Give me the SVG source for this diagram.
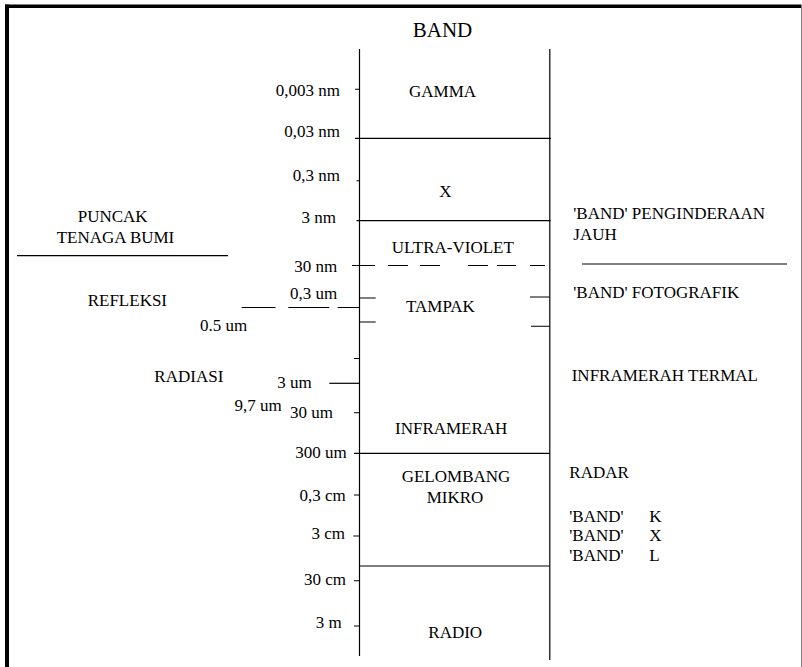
<svg xmlns="http://www.w3.org/2000/svg" width="802" height="667" viewBox="0 0 802 667">
<style>
text{font-family:"Liberation Serif","Times New Roman",serif;font-size:17px;fill:#000}
.e{text-anchor:end}
.ln{stroke:#000;stroke-width:1.2;fill:none}
.tk{stroke:#000;stroke-width:1.1;fill:none}
</style>
<rect width="802" height="667" fill="#fff"/>
<g id="frame">
<rect x="5" y="4.5" width="796" height="3.5" fill="#000"/>
<rect x="5" y="4.5" width="4" height="663" fill="#000"/>
<line x1="801.5" y1="4.5" x2="801.5" y2="667" stroke="#808080" stroke-width="1"/>
</g>
<g id="title"><text x="442.5" y="37" style="font-size:21px;text-anchor:middle">BAND</text></g>
<g id="connectors">
<line class="ln" x1="359.5" y1="49" x2="359.5" y2="656"/>
<line class="ln" x1="549.8" y1="49" x2="549.8" y2="660"/>
<line class="ln" x1="355" y1="138.3" x2="551" y2="138.3"/>
<line class="ln" x1="356.5" y1="220.7" x2="550.5" y2="220.7"/>
<path class="ln" d="M352 265.5H375M388 265.5H408M420 265.5H440M468 265.5H488M497 265.5H516M530 265.5H545"/>
<path class="ln" d="M241.7 307.5H275.5M288.3 307.5H329.3M337.7 307.5H359.5"/>
<line class="ln" x1="329.3" y1="383.3" x2="359.5" y2="383.3"/>
<line class="ln" x1="354" y1="453.3" x2="549.8" y2="453.3"/>
<line class="ln" x1="359.5" y1="566" x2="549.8" y2="566"/>
<line class="ln" x1="17" y1="255.7" x2="228" y2="255.7"/>
<line class="ln" x1="582" y1="264" x2="787" y2="264"/>
<path class="tk" d="M355 89.3H359.5M356.5 180.7H359.5M359.5 298H375.7M359.5 322H375.7M530 297H549.8M531 326.3H549.8M354 358.5H359.5M354 412.7H359.5M354 495H359.5M353.3 536H359.5M354 580.7H359.5M354 626H359.5"/>
</g>
<g id="band-gamma"><text x="409" y="97.3">GAMMA</text></g>
<g id="band-x"><text x="439.3" y="197.3">X</text></g>
<g id="band-uv"><text x="391.7" y="253.3">ULTRA-VIOLET</text></g>
<g id="band-tampak"><text x="406" y="311.7">TAMPAK</text></g>
<g id="band-inframerah"><text x="395" y="434">INFRAMERAH</text></g>
<g id="band-mikro"><text x="401.7" y="481.7">GELOMBANG</text><text x="426.7" y="502.7">MIKRO</text></g>
<g id="band-radio"><text x="428.3" y="638.3">RADIO</text></g>
<g id="scale">
<text class="e" x="340" y="95.5">0,003 nm</text>
<text class="e" x="340" y="137.3">0,03 nm</text>
<text class="e" x="340" y="180.7">0,3 nm</text>
<text class="e" x="336" y="222.5">3 nm</text>
<text class="e" x="337.3" y="272">30 nm</text>
<text class="e" x="337.3" y="299.3">0,3 um</text>
<text class="e" x="247.3" y="330.5">0.5 um</text>
<text class="e" x="311.7" y="387.7">3 um</text>
<text class="e" x="281.7" y="411">9,7 um</text>
<text x="290" y="417.7">30 um</text>
<text class="e" x="346.7" y="458.3">300 um</text>
<text class="e" x="345.7" y="500.7">0,3 cm</text>
<text class="e" x="345" y="539">3 cm</text>
<text class="e" x="346" y="585">30 cm</text>
<text class="e" x="341.7" y="628.3">3 m</text>
</g>
<g id="left-labels">
<text x="77.7" y="222.3">PUNCAK</text>
<text x="56.7" y="243.3">TENAGA BUMI</text>
<text x="87.7" y="306">REFLEKSI</text>
<text class="e" x="223.3" y="382">RADIASI</text>
</g>
<g id="right-labels">
<text x="573.3" y="219.3">'BAND' PENGINDERAAN</text>
<text x="573.3" y="240">JAUH</text>
<text x="573.3" y="298.3">'BAND' FOTOGRAFIK</text>
<text x="571.7" y="381">INFRAMERAH TERMAL</text>
<text x="569.3" y="478.3">RADAR</text>
<text x="569.3" y="521.5">'BAND'</text><text x="649.3" y="521.5">K</text>
<text x="569.3" y="540.5">'BAND'</text><text x="649.3" y="540.5">X</text>
<text x="569.3" y="560.5">'BAND'</text><text x="649.3" y="560.5">L</text>
</g>
</svg>
